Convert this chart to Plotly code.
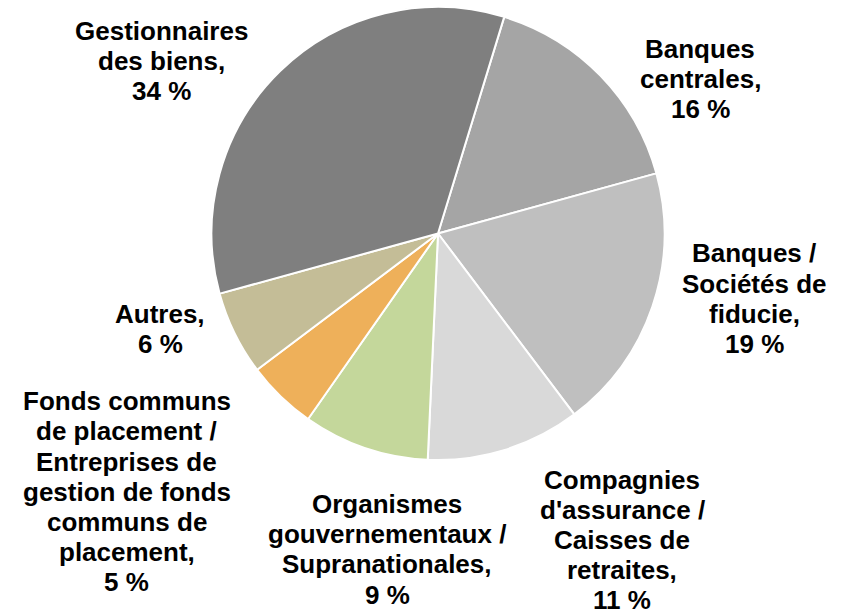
import plotly.graph_objects as go

categories = [
    "Banques<br>centrales,",
    "Banques /<br>Sociétés de<br>fiducie,",
    "Compagnies<br>d'assurance /<br>Caisses de<br>retraites,",
    "Organismes<br>gouvernementaux /<br>Supranationales,",
    "Fonds communs<br>de placement /<br>Entreprises de<br>gestion de fonds<br>communs de<br>placement,",
    "Autres,",
    "Gestionnaires<br>des biens,",
]
values = [16, 19, 11, 9, 5, 6, 34]
pct_labels = ["16 %", "19 %", "11 %", "9 %", "5 %", "6 %", "34 %"]
colors = ["#A5A5A5", "#BFBFBF", "#D9D9D9", "#C4D79B", "#EEB05A", "#C4BD97", "#7F7F7F"]

# label anchor positions in viewport pixels (center x, first line center y)
label_pos = [(700, 49), (754, 254), (622, 480), (387, 504.5), (127, 401.7), (160, 314), (161, 31)]

W, H = 843, 610
cx, cy, r = 438, 233.5, 226.5
LINE = 30.2
FS = 26

fig = go.Figure(go.Pie(
    labels=[c.replace("<br>", " ") for c in categories],
    values=values,
    sort=False,
    direction="clockwise",
    rotation=17,
    marker=dict(colors=colors, line=dict(color="white", width=2)),
    textinfo="none",
    hoverinfo="label+percent",
    domain=dict(x=[(cx - r) / W, (cx + r) / W], y=[1 - (cy + r) / H, 1 - (cy - r) / H]),
))

annotations = []
for cat, pct, (lx, ly) in zip(categories, pct_labels, label_pos):
    lines = cat.split("<br>") + [pct]
    for i, line in enumerate(lines):
        y_px = ly + i * LINE - 0.5
        annotations.append(dict(
            x=lx / W, y=1 - y_px / H, xref="paper", yref="paper",
            text="<b>" + line + "</b>", showarrow=False,
            xanchor="center", yanchor="middle",
            font=dict(family="Liberation Sans, Arial, sans-serif", size=FS, color="black"),
        ))

fig.update_layout(
    width=W, height=H,
    margin=dict(l=0, r=0, t=0, b=0),
    paper_bgcolor="white", plot_bgcolor="white",
    showlegend=False,
    annotations=annotations,
)

fig.write_html(
    "out.html",
    config={"displayModeBar": False},
    post_script="document.body.style.margin='0px';document.body.style.overflow='hidden';",
)
